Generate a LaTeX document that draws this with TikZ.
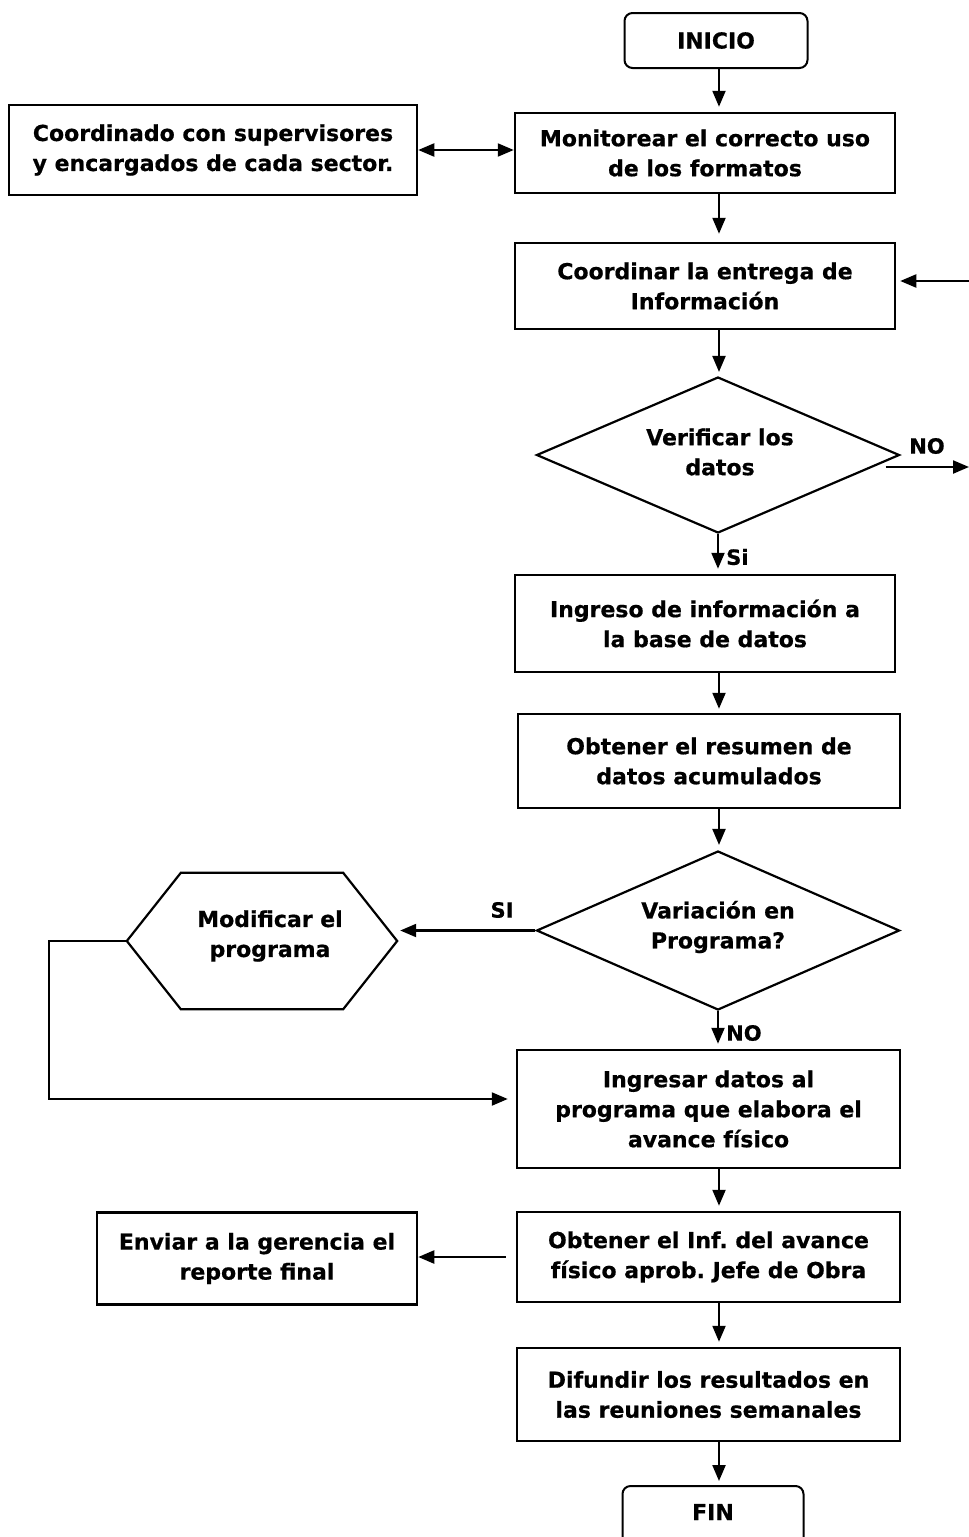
\documentclass[tikz,border=0pt]{standalone}
\usepackage{fontspec}
\setmainfont{DejaVu Sans}[BoldFeatures={FakeBold=0.6}]
\usetikzlibrary{arrows.meta,shapes.geometric,calc}
\frenchspacing

\begin{document}
\begin{tikzpicture}[x=1pt,y=-1pt,
  every node/.style={font=\bfseries\fontsize{22}{30}\selectfont, align=center, inner sep=0pt},
  term/.style={draw, line width=2pt, rounded corners=8pt},
  box/.style={draw, line width=2.5pt},
  decision/.style={draw, diamond, line width=2.2pt, aspect=2.3},
  lbl/.style={font=\bfseries\fontsize{21}{24}\selectfont},
  arr/.style={line width=2.2pt, -{Triangle[length=16pt,width=13pt]}},
  dbl/.style={line width=2.2pt, {Triangle[length=16pt,width=13pt]}-{Triangle[length=16pt,width=13pt]}}
]
\useasboundingbox (0,0) rectangle (969,1537);

% column of the main flow
\coordinate (col) at (719,0);

% start
\node[term, minimum width=183pt, minimum height=55pt] (inicio) at (716,40.5) {INICIO};

% first steps
\node[box, minimum width=380pt, minimum height=80pt] (mon) at (705,153) {Monitorear el correcto uso\\de los formatos};
\node[box, minimum width=408pt, minimum height=90pt] (sup) at (213,150) {Coordinado con supervisores\\y encargados de cada sector.};
\node[box, minimum width=380pt, minimum height=86pt] (coord) at (705,286) {Coordinar la entrega de\\Información};

% first check
\node[decision, minimum width=363pt, minimum height=156pt] (ver) at (718,455) {};
\node at (720,452) {Verificar los\\datos};

\node[box, minimum width=380pt, minimum height=97pt] (ingreso) at (705,623.5) {Ingreso de información a\\la base de datos};
\node[box, minimum width=382pt, minimum height=94pt] (resumen) at (709,761) {Obtener el resumen de\\datos acumulados};

% second check
\node[decision, minimum width=363pt, minimum height=159pt] (var) at (718,930.5) {};
\node at (718,927) {Variación en\\Programa?};

% program change (hexagon)
\node[minimum width=270pt, minimum height=136pt] (hex) at (262,941) {};
\draw[line width=2.2pt, line join=miter] (hex.west) -- ([xshift=54pt]hex.north west) -- ([xshift=-54pt]hex.north east)
  -- (hex.east) -- ([xshift=-54pt]hex.south east) -- ([xshift=54pt]hex.south west) -- cycle;
\node at (270,936) {Modificar el\\programa};

\node[box, minimum width=383pt, minimum height=118pt] (ingresar) at (708.5,1109) {Ingresar datos al\\programa que elabora el\\avance físico};
\node[box, minimum width=383pt, minimum height=90pt] (inf) at (708.5,1257) {Obtener el Inf. del avance\\físico aprob. Jefe de Obra};
\node[box, minimum width=320pt, minimum height=92pt] (env) at (257,1258.5) {Enviar a la gerencia el\\reporte final};
\node[box, minimum width=383pt, minimum height=93pt] (dif) at (708.5,1394.5) {Difundir los resultados en\\las reuniones semanales};

% end
\node[term, minimum width=181pt, minimum height=62pt] (fin) at (713,1517) {};
\node at (713,1512) {FIN};

% free ends at the right margin
\coordinate (ret) at (969,281);
\coordinate (noend) at (969,467);
\coordinate (loopx) at (49,0);

% vertical flow
\draw[arr, shorten >=5pt] (inicio.south -| col) -- (mon.north -| col);
\draw[arr, shorten >=8pt] (mon.south -| col) -- (coord.north -| col);
\draw[arr, shorten >=4pt] (coord.south -| col) -- (ver.north -| col);
\draw[arr, shorten >=5pt] (ver.south) -- (ingreso.north -| ver.south);
\draw[arr, shorten >=4pt] (ingreso.south -| col) -- (resumen.north -| col);
\draw[arr, shorten >=5pt] (resumen.south -| col) -- (var.north -| col);
\draw[arr, shorten >=5pt] (var.south) -- (ingresar.north -| var.south);
\draw[arr, shorten >=5pt] (ingresar.south -| col) -- (inf.north -| col);
\draw[arr, shorten >=5pt] (inf.south -| col) -- (dif.north -| col);
\draw[arr, shorten >=4pt] (dif.south -| col) -- (fin.north -| col);

% side connections
\draw[dbl] (sup.east) -- (sup.east -| mon.west);
\draw[arr, shorten >=4pt] (ret) -- (ret -| coord.east);
\draw[arr] ([shift={(-15,12)}]ver.east) -- (noend);
\draw[arr, shorten >=3pt] (var.west) -- (var.west -| hex.east);
\draw[arr, shorten >=8pt] (hex.west) -- (hex.west -| loopx) |- ([yshift=10pt]ingresar.west);
\draw[arr] ([xshift=-10pt]inf.west) -- (inf.west -| env.east);

% branch labels
\node[lbl] (lno1) at (927,446) {NO};
\node[lbl, anchor=west] (lsi1) at (726,557) {Si};
\node[lbl] (lsi2) at (502,910) {SI};
\node[lbl, anchor=west] (lno2) at (726,1033) {NO};
\end{tikzpicture}
\end{document}
